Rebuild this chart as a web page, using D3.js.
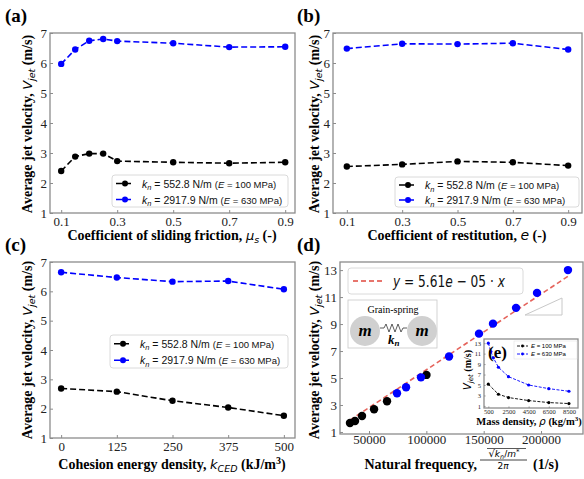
<!DOCTYPE html>
<html>
<head>
<meta charset="utf-8">
<script src="https://cdn.jsdelivr.net/npm/d3@7"></script>
<style>
  body { margin: 0; background: #fff; }
  svg { display: block; }
</style>
</head>
<body>
<div class="container"></div>
<script>
// (a) sliding friction
const frictionX = [0.1, 0.15, 0.2, 0.25, 0.3, 0.5, 0.7, 0.9];
const frictionSoft = [2.40, 2.88, 2.98, 2.98, 2.73, 2.69, 2.66, 2.69];
const frictionStiff = [5.97, 6.45, 6.74, 6.80, 6.73, 6.66, 6.53, 6.54];
// (b) restitution
const restitutionX = [0.1, 0.3, 0.5, 0.7, 0.9];
const restitutionSoft = [2.55, 2.62, 2.72, 2.69, 2.58];
const restitutionStiff = [6.48, 6.64, 6.63, 6.66, 6.45];
// (c) cohesion
const cohesionX = [0, 125, 250, 375, 500];
const cohesionSoft = [2.69, 2.58, 2.27, 2.04, 1.76];
const cohesionStiff = [6.65, 6.47, 6.33, 6.35, 6.07];
// (d) natural frequency
const freqSoft = [33400, 37800, 43900, 54400, 65700, 100100];
const velSoft = [1.66, 1.81, 2.18, 2.69, 3.28, 5.23];
const freqStiff = [74400, 82300, 95300, 119800, 145900, 158100, 178200, 196500, 223500];
const velStiff = [3.87, 4.31, 5.05, 6.60, 8.29, 9.03, 10.20, 11.31, 13.00];
const fitSlope = 5.61e-5;
// (e) mass density inset
const densitySoftX = [500, 1500, 2500, 4500, 6500, 8500];
const densitySoft = [5.15, 3.23, 2.60, 2.02, 1.64, 1.45];
const densityStiffX = [500, 750, 1000, 1500, 2500, 4500, 6500, 8500];
const densityStiff = [13.0, 11.4, 10.2, 8.4, 6.6, 5.0, 4.3, 3.8];

const ticksA = [0.1, 0.3, 0.5, 0.7, 0.9];
const ticksC = [0, 125, 250, 375, 500];
const ticksV = [1, 2, 3, 4, 5, 6, 7];
const ticksDx = [50000, 100000, 150000, 200000];
const ticksDy = [1, 3, 5, 7, 9, 11, 13];
const ticksEx = [500, 2500, 4500, 6500, 8500];
const ticksEy = [1, 3, 5, 7, 9, 11, 13];

const w = 584, h = 479;
const serif = "Liberation Serif, Times New Roman, DejaVu Serif, serif";
const sans = "Liberation Sans, Arial, sans-serif";
const math = "DejaVu Sans, sans-serif";
const frameColor = "#8c8c8c";

const svg = d3.select(".container").append("svg")
  .attr("width", w).attr("height", h);

// text with mixed runs
function rich(sel, parts) {
  parts.forEach(p => {
    const ts = sel.append("tspan").text(p.t);
    if (p.fs) ts.style("font-size", p.fs + "px");
    if (p.it) ts.style("font-style", "italic");
    if (p.ff) ts.style("font-family", p.ff);
    if (p.fw) ts.style("font-weight", p.fw);
    if (p.dy) ts.attr("dy", p.dy);
  });
  return sel;
}

function txt(x, y, fam, size, weight) {
  return svg.append("text").attr("x", x).attr("y", y)
    .style("font-family", fam).style("font-size", size + "px")
    .style("font-weight", weight || "normal");
}

function frame(g, x0, y0, x1, y1) {
  g.append("rect").attr("x", x0).attr("y", y0)
    .attr("width", x1 - x0).attr("height", y1 - y0)
    .attr("fill", "none").attr("stroke", frameColor).attr("stroke-width", 1.3);
}

function axes(g, xs, ys, xt, yt, fmtX, size, fs, padX) {
  const xa = d3.axisBottom(xs).tickValues(xt).tickFormat(fmtX)
    .tickSizeInner(-size).tickSizeOuter(0).tickPadding(padX);
  const ya = d3.axisLeft(ys).tickValues(yt).tickFormat(d3.format("d"))
    .tickSizeInner(-size).tickSizeOuter(0).tickPadding(3);
  const gx = g.append("g").attr("transform", `translate(0,${ys.range()[0]})`).call(xa);
  const gy = g.append("g").attr("transform", `translate(${xs.range()[0]},0)`).call(ya);
  [gx, gy].forEach(a => {
    a.attr("font-family", null).attr("font-size", null);
    a.select(".domain").remove();
    a.selectAll("line").attr("stroke", frameColor);
    a.selectAll("text").style("font-family", serif).style("font-size", fs + "px").attr("fill", "#222");
  });
}

function series(g, xs, ys, xv, yv, color, r) {
  const pts = xv.map((x, i) => [x, yv[i]]);
  g.append("path").datum(pts)
    .attr("d", d3.line().x(d => xs(d[0])).y(d => ys(d[1])))
    .attr("fill", "none").attr("stroke", color).attr("stroke-width", 1.6)
    .attr("stroke-dasharray", "6,3");
  g.selectAll(null).data(pts).enter().append("circle")
    .attr("cx", d => xs(d[0])).attr("cy", d => ys(d[1]))
    .attr("r", r).attr("fill", color);
}

function ylabel(x, y) {
  const t = svg.append("text")
    .attr("transform", `translate(${x},${y}) rotate(-90)`)
    .attr("text-anchor", "middle")
    .style("font-family", serif).style("font-weight", "bold").style("font-size", "14px");
  rich(t, [
    { t: "Average jet velocity, " },
    { t: "V", ff: math, it: true, fw: "normal", fs: 13 },
    { t: "jet", ff: math, it: true, fw: "normal", fs: 9.5, dy: 3 },
    { t: " (m/s)", dy: -3 }
  ]);
}

function panelTag(label, x, y) {
  txt(x, y, serif, 19, "bold").text(label);
}

function legendKn(x0, y0, x1, y1) {
  const g = svg.append("g");
  g.append("rect").attr("x", x0).attr("y", y0).attr("width", x1 - x0).attr("height", y1 - y0)
    .attr("rx", 3).attr("fill", "#fff").attr("fill-opacity", 0.85)
    .attr("stroke", "#d0d0d0").attr("stroke-width", 0.8);
  const rows = [
    { c: "#000", kn: "552.8", e: "100" },
    { c: "#0000ff", kn: "2917.9", e: "630" }
  ];
  const rowH = (y1 - y0) / 2;
  rows.forEach((r, i) => {
    const cy = y0 + rowH * (i + 0.5) + 0.5;
    g.append("line").attr("x1", x0 + 4).attr("x2", x0 + 22).attr("y1", cy).attr("y2", cy)
      .attr("stroke", r.c).attr("stroke-width", 1.6).attr("stroke-dasharray", "6,3");
    g.append("circle").attr("cx", x0 + 13).attr("cy", cy).attr("r", 3).attr("fill", r.c);
    const t = g.append("text").attr("x", x0 + 30).attr("y", cy + 4)
      .style("font-family", sans).style("font-size", "10.5px").attr("fill", "#111");
    rich(t, [
      { t: "k", it: true },
      { t: "n", it: true, fs: 7.5, dy: 2.5 },
      { t: " = " + r.kn + " N/m ", dy: -2.5 },
      { t: "(", fs: 9.5 },
      { t: "E", it: true, fs: 9.5 },
      { t: " = " + r.e + " MPa)", fs: 9.5 }
    ]);
  });
}

// ---------- panels a, b, c ----------
function simplePanel(box, domainX, xv, soft, stiff, xt, fmt) {
  const g = svg.append("g");
  const xs = d3.scaleLinear().domain(domainX).range([box[0], box[2]]);
  const ys = d3.scaleLinear().domain([1, 7]).range([box[3], box[1]]);
  axes(g, xs, ys, xt, ticksV, fmt, 3, 13, 4);
  series(g, xs, ys, xv, soft, "#000", 3.2);
  series(g, xs, ys, xv, stiff, "#0000ff", 3.2);
  frame(g, box[0], box[1], box[2], box[3]);
}

simplePanel([50, 33, 295, 213], [0.06, 0.935], frictionX, frictionSoft, frictionStiff, ticksA, d3.format(".1f"));
simplePanel([333, 33, 582, 213], [0.05, 0.95], restitutionX, restitutionSoft, restitutionStiff, ticksA, d3.format(".1f"));
simplePanel([50, 262, 295, 438], [-25, 525], cohesionX, cohesionSoft, cohesionStiff, ticksC, d3.format("d"));

legendKn(112, 175, 288, 207);
legendKn(395, 177, 579, 207);
legendKn(110, 335, 288, 368);

ylabel(32, 124);
ylabel(319, 124);
ylabel(32, 350);
ylabel(319, 350);

panelTag("(a)", 5, 22);
panelTag("(b)", 297, 22);
panelTag("(c)", 5, 251);
panelTag("(d)", 297, 251);

// x labels
rich(txt(172, 240, serif, 14, "bold").attr("text-anchor", "middle"), [
  { t: "Coefficient of sliding friction, " },
  { t: "μ", ff: math, it: true, fw: "normal", fs: 13 },
  { t: "s", ff: math, it: true, fw: "normal", fs: 9.5, dy: 3 },
  { t: " (-)", dy: -3 }
]);
rich(txt(457, 240, serif, 14, "bold").attr("text-anchor", "middle"), [
  { t: "Coefficient of restitution, " },
  { t: "e", ff: math, it: true, fw: "normal", fs: 14 },
  { t: " (-)" }
]);
rich(txt(172, 469, serif, 14, "bold").attr("text-anchor", "middle"), [
  { t: "Cohesion energy density, " },
  { t: "k", ff: math, it: true, fw: "normal", fs: 13 },
  { t: "CED", ff: math, it: true, fw: "normal", fs: 9.5, dy: 3 },
  { t: " (kJ/m", dy: -3 },
  { t: "3", fs: 10, dy: -5 },
  { t: ")", dy: 5 }
]);

// ---------- panel d ----------
const dBox = [340, 262, 583, 434];
const dg = svg.append("g");
const xD = d3.scaleLinear().domain([24700, 236600]).range([dBox[0], dBox[2]]);
const yD = d3.scaleLinear().domain([0.85, 13.6]).range([dBox[3], dBox[1]]);
axes(dg, xD, yD, ticksDx, ticksDy, d3.format("d"), 3, 13, 1);

const allFreq = freqSoft.concat(freqStiff);
const fitX = d3.extent(allFreq);
dg.append("line")
  .attr("x1", xD(fitX[0])).attr("y1", yD(fitSlope * fitX[0]))
  .attr("x2", xD(fitX[1])).attr("y2", yD(fitSlope * fitX[1]))
  .attr("stroke", "#e0483e").attr("stroke-opacity", 0.85)
  .attr("stroke-width", 1.6).attr("stroke-dasharray", "5,3");

dg.selectAll(null).data(freqSoft.map((f, i) => [f, velSoft[i]])).enter().append("circle")
  .attr("cx", d => xD(d[0])).attr("cy", d => yD(d[1])).attr("r", 4.2).attr("fill", "#000");
dg.selectAll(null).data(freqStiff.map((f, i) => [f, velStiff[i]])).enter().append("circle")
  .attr("cx", d => xD(d[0])).attr("cy", d => yD(d[1])).attr("r", 4.2).attr("fill", "#0000ff");

// fit legend
dg.append("rect").attr("x", 348).attr("y", 268).attr("width", 175).attr("height", 26)
  .attr("rx", 3).attr("fill", "#fff").attr("stroke", "#d0d0d0").attr("stroke-width", 0.8);
dg.append("line").attr("x1", 353).attr("x2", 384).attr("y1", 281).attr("y2", 281)
  .attr("stroke", "#e0483e").attr("stroke-width", 1.6).attr("stroke-dasharray", "5,3");
rich(svg.append("text").attr("transform", "translate(393,287) scale(0.76,1)")
  .style("font-family", math).style("font-size", "16px").attr("fill", "#111"), [
  { t: "y", it: true },
  { t: " = 5.61" },
  { t: "e", it: true },
  { t: " − 05 · " },
  { t: "x", it: true }
]);

// grain-spring schematic
const gs = dg.append("g");
gs.append("rect").attr("x", 348).attr("y", 300).attr("width", 89).attr("height", 48)
  .attr("fill", "#fff").attr("stroke", "#c8c8c8").attr("stroke-width", 0.8);
txt(393, 313, serif, 10).attr("text-anchor", "middle").text("Grain-spring");
[365, 422].forEach(cx => {
  gs.append("circle").attr("cx", cx).attr("cy", 331).attr("r", 15).attr("fill", "#d0d0d0");
  txt(cx, 336, serif, 17, "bold").attr("text-anchor", "middle")
    .style("font-style", "italic").text("m");
});
gs.append("path")
  .attr("d", "M380,328 L384,328 L386,324 L389,332 L392,324 L395,332 L398,324 L401,332 L403,328 L407,328")
  .attr("fill", "none").attr("stroke", "#333").attr("stroke-width", 0.8);
rich(txt(388, 344, serif, 13, "bold").style("font-style", "italic"), [
  { t: "k" },
  { t: "n", fs: 9, dy: 2 }
]);

// slope triangle
dg.append("path").attr("d", "M525,315 L562,298 L562,315 Z")
  .attr("fill", "none").attr("stroke", "#c8c8c8").attr("stroke-width", 1);

frame(dg, dBox[0], dBox[1], dBox[2], dBox[3]);

// panel d x label with fraction
txt(477, 469, serif, 14, "bold").attr("text-anchor", "end").text("Natural frequency,");
rich(txt(504, 457, math, 9).attr("text-anchor", "middle"), [
  { t: "√", fs: 10 },
  { t: "k", it: true },
  { t: "n", it: true, fs: 6.5, dy: 1.5 },
  { t: "/", dy: -1.5 },
  { t: "m", it: true },
  { t: "*", fs: 7, dy: -3 }
]);
svg.append("line").attr("x1", 487).attr("x2", 526).attr("y1", 448.5).attr("y2", 448.5)
  .attr("stroke", "#111").attr("stroke-width", 0.7);
svg.append("line").attr("x1", 480).attr("x2", 527).attr("y1", 460).attr("y2", 460)
  .attr("stroke", "#111").attr("stroke-width", 0.8);
rich(txt(503, 469, math, 9).attr("text-anchor", "middle"), [
  { t: "2" }, { t: "π", it: true }
]);
txt(533, 469, serif, 14, "bold").text("(1/s)");

// ---------- inset e ----------
const eBox = [484, 339, 578, 408];
const eg = svg.append("g");
eg.append("rect").attr("x", eBox[0]).attr("y", eBox[1])
  .attr("width", eBox[2] - eBox[0]).attr("height", eBox[3] - eBox[1]).attr("fill", "#fff");
const xE = d3.scaleLinear().domain([70, 9400]).range([eBox[0], eBox[2]]);
const yE = d3.scaleLinear().domain([0.6, 13.8]).range([eBox[3], eBox[1]]);
axes(eg, xE, yE, ticksEx, ticksEy, d3.format("d"), 1.5, 6.5, 1);
[[densitySoftX, densitySoft, "#000"], [densityStiffX, densityStiff, "#0000ff"]].forEach(s => {
  const pts = s[0].map((x, i) => [x, s[1][i]]);
  eg.append("path").datum(pts)
    .attr("d", d3.line().x(d => xE(d[0])).y(d => yE(d[1])))
    .attr("fill", "none").attr("stroke", s[2]).attr("stroke-width", 0.9)
    .attr("stroke-dasharray", "3,1.5");
  eg.selectAll(null).data(pts).enter().append("circle")
    .attr("cx", d => xE(d[0])).attr("cy", d => yE(d[1])).attr("r", 1.6).attr("fill", s[2]);
});
frame(eg, eBox[0], eBox[1], eBox[2], eBox[3]);
txt(488, 358, serif, 17, "bold").text("(e)");
// inset legend
eg.append("rect").attr("x", 514).attr("y", 341).attr("width", 63).attr("height", 18)
  .attr("fill", "#fff").attr("stroke", "#ddd").attr("stroke-width", 0.5);
[["#000", "100"], ["#0000ff", "630"]].forEach((r, i) => {
  const cy = 346 + i * 8;
  eg.append("line").attr("x1", 517).attr("x2", 528).attr("y1", cy).attr("y2", cy)
    .attr("stroke", r[0]).attr("stroke-width", 0.9).attr("stroke-dasharray", "3,1.5");
  eg.append("circle").attr("cx", 522.5).attr("cy", cy).attr("r", 1.4).attr("fill", r[0]);
  rich(txt(531, cy + 2.2, sans, 6), [
    { t: "E", it: true }, { t: " = " + r[1] + " MPa" }
  ]);
});
rich(svg.append("text").attr("transform", "translate(471,370) rotate(-90)")
  .attr("text-anchor", "middle").style("font-family", serif)
  .style("font-weight", "bold").style("font-size", "10px"), [
  { t: "V", ff: math, it: true, fw: "normal", fs: 10 },
  { t: "jet", ff: math, it: true, fw: "normal", fs: 7, dy: 2 },
  { t: " (m/s)", dy: -2 }
]);
rich(txt(529, 425, serif, 10.5, "bold").attr("text-anchor", "middle"), [
  { t: "Mass density, " },
  { t: "ρ", ff: math, it: true, fw: "normal" },
  { t: " (kg/m" },
  { t: "3", fs: 7, dy: -4 },
  { t: ")", dy: 4 }
]);
</script>
</body>
</html>
